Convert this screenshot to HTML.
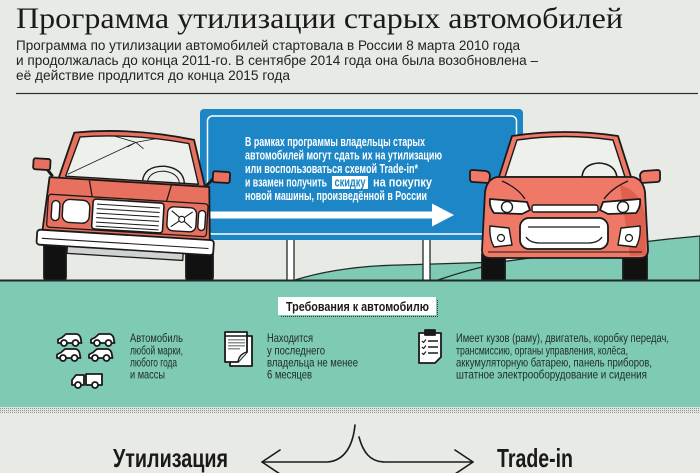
<!DOCTYPE html>
<html><head><meta charset="utf-8"><style>
html,body{margin:0;padding:0;background:#e8ebe5;}
svg{display:block;}
</style></head><body>
<svg width="700" height="473" viewBox="0 0 700 473" xmlns="http://www.w3.org/2000/svg">
<defs>
<pattern id="dots" width="2" height="2" patternUnits="userSpaceOnUse"><rect width="2" height="2" fill="#dfe4e0"/><rect width="1" height="1" fill="#8e9c97"/></pattern>
<g id="car"><path d="M1,10 V6.5 L5,4.5 L9,1 H19 Q22,1 23.5,4.5 L24.5,10 Z" fill="#fff" stroke="#1a1a1a" stroke-width="1.8" stroke-linejoin="round"/><circle cx="7" cy="10" r="3" fill="#fff" stroke="#1a1a1a" stroke-width="1.8"/><circle cx="18.5" cy="10" r="3" fill="#fff" stroke="#1a1a1a" stroke-width="1.8"/></g>
</defs>
<rect width="700" height="473" fill="#e8ebe5"/>

<!-- Header -->
<text x="16" y="28" font-family="Liberation Serif, serif" font-size="30" fill="#1a1a1a" textLength="607" lengthAdjust="spacingAndGlyphs">Программа утилизации старых автомобилей</text>
<g font-family="Liberation Sans, sans-serif" font-size="14" fill="#222">
<text x="16" y="50" textLength="504" lengthAdjust="spacingAndGlyphs">Программа по утилизации автомобилей стартовала в России 8 марта 2010 года</text>
<text x="16" y="65" textLength="522" lengthAdjust="spacingAndGlyphs">и продолжалась до конца 2011-го. В сентябре 2014 года она была возобновлена –</text>
<text x="16" y="80" textLength="274" lengthAdjust="spacingAndGlyphs">её действие продлится до конца 2015 года</text>
</g>
<line x1="16" y1="93.5" x2="698" y2="93.5" stroke="#333" stroke-width="1.3"/>

<!-- Hill -->
<path d="M295,280 Q340,266 400,265 Q460,263 500,262 L560,254 Q630,242 700,236 V281 H295 Z" fill="#7ecab4" stroke="#1f2a26" stroke-width="1.3"/>
<path d="M438,280 Q470,269 500,263" fill="none" stroke="#1f2a26" stroke-width="1.3"/>

<!-- Posts -->
<rect x="287" y="238" width="7" height="43" fill="#fff" stroke="#1f2a26" stroke-width="1.3"/>
<rect x="423" y="238" width="7" height="43" fill="#fff" stroke="#1f2a26" stroke-width="1.3"/>

<!-- Sign -->
<rect x="200" y="109" width="323" height="131" rx="4" fill="#1c86c6"/>
<rect x="207.5" y="116" width="309" height="118" rx="5" fill="none" stroke="#fff" stroke-width="1.5"/>
<g font-family="Liberation Sans, sans-serif" font-weight="bold" font-size="12.5" fill="#fff">
<text x="245" y="146" textLength="180" lengthAdjust="spacingAndGlyphs">В рамках программы владельцы старых</text>
<text x="245" y="159.5" textLength="197" lengthAdjust="spacingAndGlyphs">автомобилей могут сдать их на утилизацию</text>
<text x="245" y="173" textLength="173" lengthAdjust="spacingAndGlyphs">или воспользоваться схемой Trade-in*</text>
<text x="245" y="186.5" textLength="82" lengthAdjust="spacingAndGlyphs">и взамен получить</text>
<rect x="332" y="176" width="36" height="13" fill="#fff"/>
<text x="334.5" y="186.5" textLength="31" lengthAdjust="spacingAndGlyphs" fill="#1c86c6">скидку</text>
<text x="373" y="186.5" textLength="59" lengthAdjust="spacingAndGlyphs">на покупку</text>
<text x="245" y="200" textLength="182" lengthAdjust="spacingAndGlyphs">новой машины, произведённой в России</text>
</g>
<rect x="210" y="211.5" width="224" height="7" fill="#fff"/>
<polygon points="432,203.5 454,215 432,226.5" fill="#fff"/>

<!-- Old car -->
<g stroke="#1a1a1a" stroke-width="1.8" stroke-linejoin="round">
<rect x="44" y="238" width="22" height="44" rx="5" fill="#111"/>
<rect x="186" y="242" width="27" height="40" rx="5" fill="#111"/>
<g transform="rotate(3.5 128 205)">
 <path d="M51,181 L44,173" fill="none" stroke-width="3"/>
 <rect x="31" y="164" width="17" height="11" rx="2" fill="#e8705f"/>
 <path d="M205,181 L212,173" fill="none" stroke-width="3"/>
 <rect x="211" y="166" width="17" height="11" rx="2" fill="#e8705f"/>
 <path d="M57,183 L70,136 Q128,127 190,136 L204,183 Z" fill="#e8705f"/>
 <path d="M64,180 L76,140 Q128,133 185,140 L197,180 Z" fill="#eef0ec" stroke-width="1.4"/>
 <path d="M141,180 Q142,165 162,164 Q181,165 183,180" fill="none" stroke-width="1.4"/>
 <path d="M146,180 Q148,170 162,169 Q176,170 178,180" fill="none" stroke-width="1"/>
 <path d="M66,178 L132,142 M110,137 L132,142 L152,137 M132,142 L140,148 M132,142 L124,147" fill="none" stroke-width="0.8"/>
 <path d="M48,182 L208,182 L212,238 L44,238 Z" fill="#e8705f"/>
 <path d="M88,183 L92,200 M170,183 L166,200" fill="none" stroke-width="1.3"/>
 <rect x="48" y="199" width="160" height="33" rx="3" fill="#e8705f" stroke-width="1.3"/>
 <rect x="52" y="205" width="8" height="20" rx="4" fill="#fff" stroke-width="1.4"/>
 <rect x="63" y="203" width="27" height="23" rx="7" fill="#fff" stroke-width="1.4"/>
 <rect x="93" y="201" width="71" height="30" rx="3" fill="#fff" stroke-width="1.6"/>
 <path d="M97,206 H160 M97,210.5 H160 M97,215 H160 M97,219.5 H160 M97,224 H160 M97,228 H160" fill="none" stroke-width="1"/>
 <rect x="168" y="204" width="29" height="24" rx="6" fill="#fff" stroke-width="1.4"/>
 <path d="M172,208 L193,224 M193,208 L172,224" fill="none" stroke-width="1.1"/>
 <circle cx="182.5" cy="216" r="3" fill="#fff" stroke-width="1.1"/>
 <rect x="199" y="206" width="7" height="20" rx="3.5" fill="#fff" stroke-width="1.4"/>
 <rect x="39" y="235" width="177" height="15" rx="3" fill="#fff"/>
 <line x1="44" y1="243.5" x2="211" y2="243.5" stroke-width="1.1"/>
 <rect x="70" y="250" width="116" height="7" fill="#cfd3cf" stroke-width="1.3"/>
</g>
</g>

<!-- New car -->
<g stroke="#1a1a1a" stroke-width="1.8" stroke-linejoin="round">
<rect x="482" y="250" width="23" height="33" rx="5" fill="#111"/>
<rect x="623" y="250" width="24" height="33" rx="5" fill="#111"/>
<path d="M492,183 L484,178" fill="none" stroke-width="3"/>
<path d="M470,172 Q470,170 473,170 L486,171 Q490,172 490,176 L489,183 L473,182 Q470,182 470,179 Z" fill="#ef7867"/>
<path d="M638,183 L646,178" fill="none" stroke-width="3"/>
<path d="M660,172 Q660,170 657,170 L644,171 Q640,172 640,176 L641,183 L657,182 Q660,182 660,179 Z" fill="#ef7867"/>
<path d="M498,180 L512,136 Q565,128 618,136 L632,180 Z" fill="#ef7867"/>
<path d="M505,177 L517,140 Q565,133 613,140 L625,177 Z" fill="#eef0ec" stroke-width="1.4"/>
<path d="M582,177 Q583,164 599,163 Q615,164 617,177" fill="none" stroke-width="1.6"/>
<path d="M497,177 L633,177 Q643,179 645,192 L648,250 Q648,258 640,258 L490,258 Q482,258 482,250 L485,192 Q487,179 497,177 Z" fill="#ef7867"/>
<path d="M620,185 Q640,190 645,215 L646,255 L630,256 Q625,220 620,185 Z" fill="#e0604f" stroke="none"/>
<path d="M502,181 Q518,188 525,199 M628,181 Q612,188 604,199" fill="none" stroke-width="1.3"/>
<path d="M490,199 L527,202 L530,210 L522,214 L494,213 Q489,207 490,199 Z" fill="#fff"/>
<circle cx="507" cy="207" r="5.5" fill="#fff" stroke-width="1.4"/>
<path d="M640,199 L603,202 L600,210 L608,214 L636,213 Q641,207 640,199 Z" fill="#fff"/>
<circle cx="623" cy="207" r="5.5" fill="#fff" stroke-width="1.4"/>
<rect x="532" y="205" width="66" height="7" rx="2" fill="#fff" stroke-width="1.4"/>
<rect x="520" y="218" width="88" height="31" rx="9" fill="#fff"/>
<path d="M528,227 H600 M526,237 Q530,243 540,243 H588 Q598,243 602,237" fill="none" stroke-width="1.3"/>
<path d="M490,226 L509,228 L512,245 L494,247 Q489,238 490,226 Z" fill="#fff" stroke-width="1.4"/>
<circle cx="501" cy="238" r="3.5" fill="#fff" stroke-width="1.2"/>
<path d="M640,226 L621,228 L618,245 L636,247 Q641,238 640,226 Z" fill="#fff" stroke-width="1.4"/>
<circle cx="629" cy="238" r="3.5" fill="#fff" stroke-width="1.2"/>
<line x1="488" y1="252" x2="642" y2="252" stroke-width="1.1"/>
</g>

<!-- Ground -->
<rect x="0" y="280" width="700" height="127" fill="#7ecab4"/>
<line x1="0" y1="280.5" x2="700" y2="280.5" stroke="#1f2a26" stroke-width="2"/>
<rect x="0" y="407" width="700" height="6" fill="url(#dots)"/>

<!-- Label -->
<line x1="281" y1="316.5" x2="437" y2="316.5" stroke="#333" stroke-width="1" stroke-dasharray="1 1"/>
<line x1="437.5" y1="300" x2="437.5" y2="317" stroke="#333" stroke-width="1" stroke-dasharray="1 1"/>
<rect x="278" y="297" width="158" height="18" fill="#fff"/>
<text x="286" y="311" font-family="Liberation Sans, sans-serif" font-weight="bold" font-size="13" fill="#1a1a1a" textLength="143" lengthAdjust="spacingAndGlyphs">Требования к автомобилю</text>

<!-- Icons -->
<use href="#car" x="57" y="333"/>
<use href="#car" x="90" y="333"/>
<use href="#car" x="56" y="348"/>
<use href="#car" x="88" y="348"/>
<g stroke="#1a1a1a" stroke-width="1.8" stroke-linejoin="round" fill="#fff">
<path d="M72,385 V380 L76,375 H84 V385 Z"/>
<rect x="86" y="374" width="16" height="11"/>
<circle cx="78" cy="385" r="3"/>
<circle cx="95" cy="385" r="3"/>
</g>
<g stroke="#1a1a1a" stroke-width="1.8" stroke-linejoin="round">
<path d="M230,336 H252 V366 H230 Z" fill="#fff"/>
<path d="M225,332 H247 V352 L238,362 H225 Z" fill="#fff"/>
<path d="M238,362 Q239,354 247,352" fill="#e8ebe5" stroke-width="1.4"/>
<line x1="225" y1="336" x2="247" y2="336" stroke-width="1.4"/>
</g>
<g fill="#8a9490">
<rect x="228" y="339" width="17" height="1.5"/><rect x="228" y="342" width="17" height="1.5"/><rect x="228" y="345" width="17" height="1.5"/><rect x="228" y="348" width="12" height="1.5"/>
</g>
<g stroke="#1a1a1a" stroke-width="1.8" stroke-linejoin="round">
<path d="M419,333 H441 V357 L435,363 H419 Z" fill="#fff"/>
<rect x="425" y="330" width="10" height="5" fill="#1a1a1a"/>
<path d="M422,341 l1.5,1.5 l2.5,-3 M422,347 l1.5,1.5 l2.5,-3 M422,353 l1.5,1.5 l2.5,-3" fill="none" stroke-width="1.2"/>
<path d="M428,341 H438 M428,347 H438 M428,353 H438" fill="none" stroke-width="1.5"/>
</g>

<!-- Requirement texts -->
<g font-family="Liberation Sans, sans-serif" font-size="12" fill="#1f2a26">
<text x="130" y="342" textLength="53" lengthAdjust="spacingAndGlyphs">Автомобиль</text>
<text x="130" y="354.5" textLength="53" lengthAdjust="spacingAndGlyphs">любой марки,</text>
<text x="130" y="366.5" textLength="47" lengthAdjust="spacingAndGlyphs">любого года</text>
<text x="130" y="378.5" textLength="35" lengthAdjust="spacingAndGlyphs">и массы</text>
<text x="267" y="342" textLength="46" lengthAdjust="spacingAndGlyphs">Находится</text>
<text x="267" y="354.5" textLength="58" lengthAdjust="spacingAndGlyphs">у последнего</text>
<text x="267" y="366.5" textLength="91" lengthAdjust="spacingAndGlyphs">владельца не менее</text>
<text x="267" y="378.5" textLength="45" lengthAdjust="spacingAndGlyphs">6 месяцев</text>
<text x="456" y="342" textLength="213" lengthAdjust="spacingAndGlyphs">Имеет кузов (раму), двигатель, коробку передач,</text>
<text x="456" y="354.5" textLength="172" lengthAdjust="spacingAndGlyphs">трансмиссию, органы управления, колёса,</text>
<text x="456" y="366.5" textLength="196" lengthAdjust="spacingAndGlyphs">аккумуляторную батарею, панель приборов,</text>
<text x="456" y="378.5" textLength="191" lengthAdjust="spacingAndGlyphs">штатное электрооборудование и сидения</text>
</g>

<!-- Bottom -->
<g font-family="Liberation Sans, sans-serif" font-weight="bold" font-size="26" fill="#1a1a1a">
<text x="113" y="467" textLength="115" lengthAdjust="spacingAndGlyphs">Утилизация</text>
<text x="497" y="467" textLength="76" lengthAdjust="spacingAndGlyphs">Trade-in</text>
</g>
<g fill="none" stroke="#1a1a1a" stroke-width="1.6" stroke-linecap="round" stroke-linejoin="round">
<path d="M355,425 C353,445 345,461 327,462 L262,462"/>
<path d="M280,450 L262,462 L280,474"/>
<path d="M359,437 C363,452 370,462 385,462 L473,462"/>
<path d="M455,450 L473,462 L455,474"/>
</g>
</svg>
</body></html>
